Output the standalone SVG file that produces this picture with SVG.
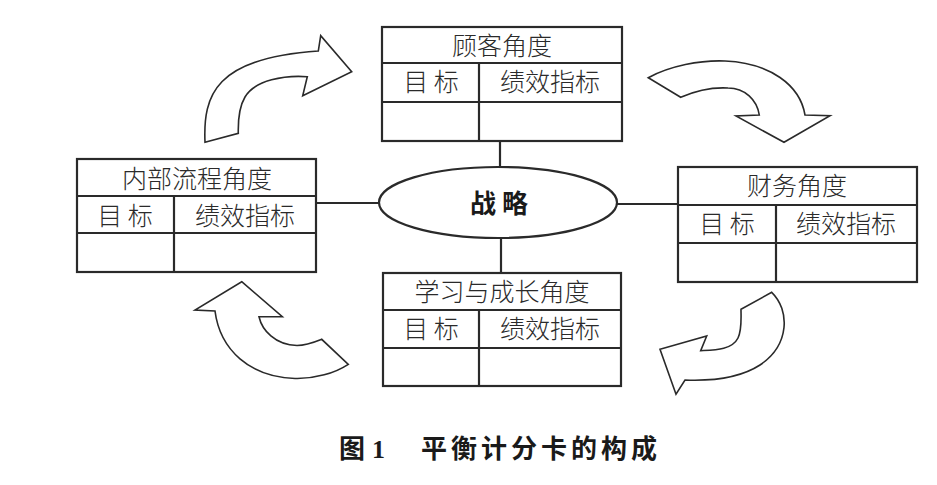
<svg xmlns="http://www.w3.org/2000/svg" width="937" height="485" viewBox="0 0 937 485">
<style>
.box{fill:#fff;stroke:#2a2a2a;stroke-width:2.2}
.ln{stroke:#2a2a2a;stroke-width:2.2;fill:none}
.arr{fill:#fff;stroke:#2a2a2a;stroke-width:1.6;stroke-linejoin:miter}
.t{font-family:"Noto Sans CJK SC","Noto Sans",sans-serif;font-size:25px;font-weight:300;fill:#2a2a2a;text-anchor:middle}
.b{font-family:"Noto Sans CJK SC","Noto Sans",sans-serif;font-size:26px;font-weight:700;fill:#1a1a1a;text-anchor:middle}
</style>
<rect width="937" height="485" fill="#fff"/>
<g id="connectors">
<line class="ln" x1="500" y1="141" x2="500" y2="167"/>
<line class="ln" x1="501" y1="238" x2="501" y2="273"/>
<line class="ln" x1="316" y1="203" x2="380" y2="203"/>
<line class="ln" x1="616" y1="204" x2="678" y2="204"/>
</g>
<g id="arrows">
<path class="arr" d="M205,142.3 C203,95 215,58 318.3,51 L320.7,35.7 L351.7,71.7 L302.7,95.7 L307.3,76.7 C285,75 255,80 245,97 C239,107 238,120 238.3,133.3 Z"/>
<path class="arr" d="M648.3,77.7 C670,66 700,60 725,61 C770,63 800,85 805,115 L830,115.7 L784,142.3 L736,116 L759.3,115 C757,100 745,88 728,88 C710,87 695,91 680.7,97.3 Z"/>
<path class="arr" d="M771.7,292.3 C790,310 790,345 760,365 C740,378 710,381 685,380 L676,394.3 L660,349.3 L706.7,336 L700.7,350.7 C715,350 732,350 738,338 C742,330 741,318 741,309.3 Z"/>
<path class="arr" d="M241.7,281.7 L282.3,316.7 L259,316.7 C262,330 275,345 297,345.5 C307,345.5 315,342 321.7,339.3 L348.3,364.3 C335,373 315,379 295,378.5 C250,377 220,350 215,311 L195,310 Z"/>
</g>
<g id="strategy">
<ellipse class="box" cx="498" cy="202.5" rx="119" ry="35.5"/>
<text class="b" x="499" y="213">战 略</text>
</g>
<g id="customer">
<rect class="box" x="382" y="27" width="240" height="114"/>
<line class="ln" x1="382" y1="63" x2="622" y2="63"/>
<line class="ln" x1="382" y1="102" x2="622" y2="102"/>
<line class="ln" x1="479" y1="63" x2="479" y2="141"/>
<text class="t" x="502" y="55">顾客角度</text>
<text class="t" x="431" y="91">目 标</text>
<text class="t" x="550" y="91">绩效指标</text>
</g>
<g id="internal">
<rect class="box" x="77" y="159" width="239" height="113"/>
<line class="ln" x1="77" y1="196" x2="316" y2="196"/>
<line class="ln" x1="77" y1="233" x2="316" y2="233"/>
<line class="ln" x1="174" y1="196" x2="174" y2="272"/>
<text class="t" x="197" y="188">内部流程角度</text>
<text class="t" x="125" y="225">目 标</text>
<text class="t" x="245" y="225">绩效指标</text>
</g>
<g id="finance">
<rect class="box" x="678" y="167" width="239" height="115"/>
<line class="ln" x1="678" y1="205" x2="917" y2="205"/>
<line class="ln" x1="678" y1="243" x2="917" y2="243"/>
<line class="ln" x1="776" y1="205" x2="776" y2="282"/>
<text class="t" x="797" y="195">财务角度</text>
<text class="t" x="727" y="233">目 标</text>
<text class="t" x="846" y="233">绩效指标</text>
</g>
<g id="learning">
<rect class="box" x="383" y="273" width="238" height="113"/>
<line class="ln" x1="383" y1="310" x2="621" y2="310"/>
<line class="ln" x1="383" y1="348" x2="621" y2="348"/>
<line class="ln" x1="479" y1="310" x2="479" y2="386"/>
<text class="t" x="502" y="301">学习与成长角度</text>
<text class="t" x="431" y="338">目 标</text>
<text class="t" x="550" y="338">绩效指标</text>
</g>
<g id="caption">
<text x="339" y="458" style="font-family:'Noto Sans CJK SC',sans-serif;font-size:26px;font-weight:700;fill:#1a1a1a">图</text>
<text x="372" y="458" style="font-family:'Liberation Serif',serif;font-size:26px;font-weight:700;fill:#1a1a1a">1</text>
<text x="421" y="458" style="font-family:'Noto Sans CJK SC',sans-serif;font-size:26px;font-weight:700;fill:#1a1a1a;letter-spacing:4px">平衡计分卡的构成</text>
</g>
</svg>
